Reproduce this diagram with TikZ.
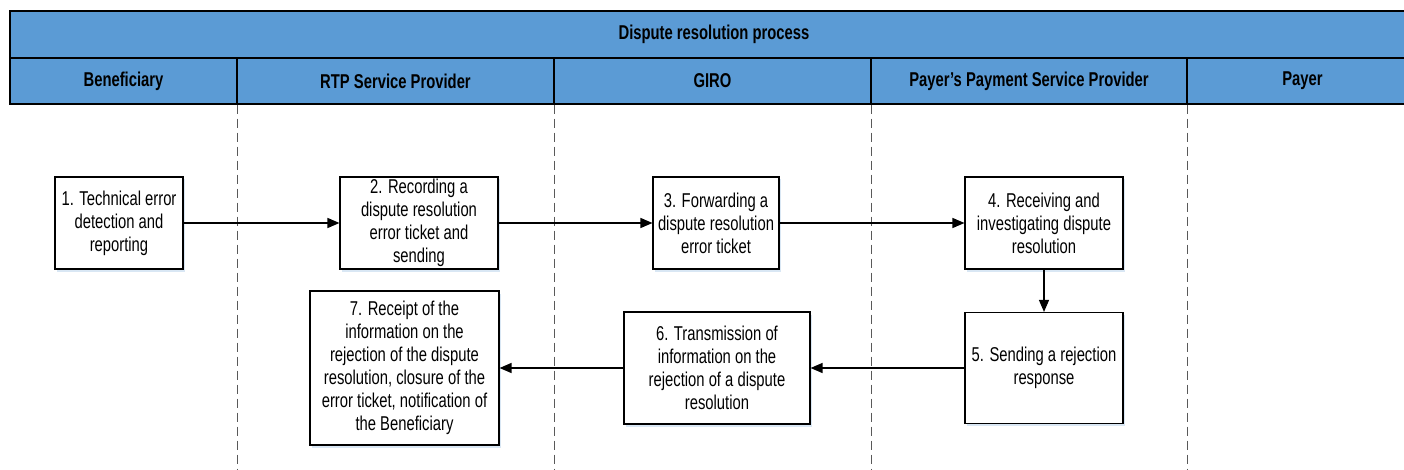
\documentclass[tikz,border=0pt]{standalone}
\usepackage{fontspec}
\setmainfont[FakeStretch=0.74]{Liberation Sans}
\usetikzlibrary{arrows.meta,shadows}
\definecolor{laneblue}{HTML}{5B9BD5}
\definecolor{shadeblue}{HTML}{C9DDF0}
\tikzset{
  lanecell/.style={draw, line width=1.2pt, fill=laneblue, inner sep=0pt,
    font=\fontsize{20}{23}\selectfont\bfseries},
  procbox/.style={draw, line width=1.1pt, fill=white, align=center, inner sep=0pt,
    font=\fontsize{20}{23}\selectfont,
    drop shadow={shadow xshift=1.5pt, shadow yshift=-2.5pt, fill=shadeblue, opacity=0.7}},
  flow/.style={line width=1.3pt, -{Triangle[length=12pt,width=10pt]}},
  lanesep/.style={draw=black!65, line width=0.8pt, dash pattern=on 9pt off 5pt}
}
\begin{document}
\begin{tikzpicture}[x=1pt,y=-1pt]
  \useasboundingbox (0,0) rectangle (1404,470);

  % header
  \node[lanecell, minimum width=1408, minimum height=47] (title) at (714,34.5) {Dispute resolution process};
  \node[lanecell, minimum width=227, minimum height=46] (benef) at (123.5,81) {Beneficiary};
  \node[lanecell, minimum width=317, minimum height=46] (rtp) at (395.5,81) {RTP Service Provider};
  \node[lanecell, minimum width=317, minimum height=46] (giro) at (712.5,81) {GIRO};
  \node[lanecell, minimum width=316, minimum height=46] (ppsp) at (1029,81) {Payer’s Payment Service Provider};
  \node[lanecell, minimum width=231, minimum height=46] (payer) at (1302.5,81) {Payer};

  \foreach \lane in {benef,rtp,giro,ppsp}
    \draw[lanesep] (\lane.south east) -- ++(0,366);

  % steps
  \node[procbox, minimum width=128, minimum height=92] (s1) at (119,223)
    {1. Technical error\\detection and\\reporting};
  \node[procbox, minimum width=158, minimum height=92] (s2) at (419,223)
    {2. Recording a\\dispute resolution\\error ticket and\\sending};
  \node[procbox, minimum width=126, minimum height=92] (s3) at (716,223)
    {3. Forwarding a\\dispute resolution\\error ticket};
  \node[procbox, minimum width=158, minimum height=92] (s4) at (1044,223)
    {4. Receiving and\\investigating dispute\\resolution};
  \node[procbox, minimum width=158, minimum height=111] (s5) at (1044,368)
    {5. Sending a rejection\\response};
  \node[procbox, minimum width=186, minimum height=112] (s6) at (717,368)
    {6. Transmission of\\information on the\\rejection of a dispute\\resolution};
  \node[procbox, minimum width=189, minimum height=154] (s7) at (404.5,368)
    {7. Receipt of the\\information on the\\rejection of the dispute\\resolution, closure of the\\error ticket, notification of\\the Beneficiary};

  \draw[flow] (s1) -- (s2);
  \draw[flow] (s2) -- (s3);
  \draw[flow] (s3) -- (s4);
  \draw[flow] (s4) -- (s5);
  \draw[flow] (s5) -- (s6);
  \draw[flow] (s6) -- (s7);
\end{tikzpicture}
\end{document}
